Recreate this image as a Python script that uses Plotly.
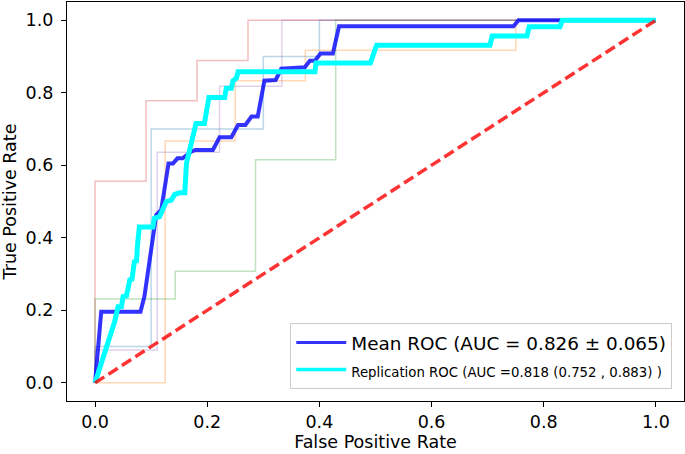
import plotly.graph_objects as go

# ---- data ----
fold_colors = ["rgba(31,119,180,0.3)", "rgba(255,127,14,0.3)", "rgba(44,160,44,0.3)",
               "rgba(214,39,40,0.3)", "rgba(148,103,189,0.3)"]

fold0_fpr = [0, 0, 0.1, 0.1, 0.3, 0.3, 0.4, 0.4, 1.0]
fold0_tpr = [0, 0.1, 0.1, 0.7, 0.7, 0.9, 0.9, 1.0, 1.0]

fold1_fpr = [0, 0.125, 0.125, 0.25, 0.25, 0.375, 0.375, 0.75, 0.75, 1.0]
fold1_tpr = [0, 0, 0.667, 0.667, 0.833, 0.833, 0.917, 0.917, 1.0, 1.0]

fold2_fpr = [0, 0, 0.143, 0.143, 0.286, 0.286, 0.429, 0.429, 1.0]
fold2_tpr = [0, 0.231, 0.231, 0.308, 0.308, 0.615, 0.615, 1.0, 1.0]

fold3_fpr = [0, 0, 0.0909, 0.0909, 0.1818, 0.1818, 0.2727, 0.2727, 1.0]
fold3_tpr = [0, 0.556, 0.556, 0.778, 0.778, 0.889, 0.889, 1.0, 1.0]

fold4_fpr = [0, 0, 0.111, 0.111, 0.222, 0.222, 0.333, 0.333, 1.0]
fold4_tpr = [0, 0.0909, 0.0909, 0.636, 0.636, 0.818, 0.818, 1.0, 1.0]

mean_fpr = [0, 0.011, 0.081, 0.088, 0.109, 0.118, 0.131, 0.139, 0.147, 0.156, 0.172,
            0.179, 0.210, 0.222, 0.243, 0.255, 0.268, 0.279, 0.290, 0.302, 0.322,
            0.332, 0.374, 0.383, 0.392, 0.402, 0.424, 0.435, 0.746, 0.755, 1.0]
mean_tpr = [0, 0.196, 0.196, 0.238, 0.463, 0.477, 0.605, 0.605, 0.619, 0.619, 0.638,
            0.642, 0.642, 0.677, 0.677, 0.711, 0.711, 0.734, 0.734, 0.833, 0.835,
            0.866, 0.870, 0.888, 0.888, 0.908, 0.908, 0.983, 0.983, 1.0, 1.0]

rep_fpr = [0, 0.035, 0.041, 0.047, 0.050, 0.056, 0.062, 0.066, 0.070, 0.074, 0.076,
           0.079, 0.103, 0.106, 0.115, 0.121, 0.127, 0.136, 0.142, 0.151, 0.160,
           0.163, 0.169, 0.175, 0.180, 0.195, 0.198, 0.203, 0.231, 0.234, 0.243,
           0.246, 0.252, 0.255, 0.392, 0.394, 0.491, 0.495, 0.502, 0.704, 0.708,
           0.770, 0.774, 0.829, 0.833, 1.0]
rep_tpr = [0, 0.169, 0.210, 0.210, 0.238, 0.240, 0.284, 0.286, 0.334, 0.336, 0.385,
           0.430, 0.430, 0.454, 0.458, 0.481, 0.500, 0.504, 0.520, 0.524, 0.524,
           0.605, 0.642, 0.688, 0.715, 0.715, 0.743, 0.787, 0.787, 0.812, 0.812,
           0.833, 0.840, 0.858, 0.858, 0.882, 0.882, 0.904, 0.931, 0.931, 0.956,
           0.956, 0.982, 0.982, 1.0, 1.0]

chance = [0, 1]
tick_vals = [0.0, 0.2, 0.4, 0.6, 0.8, 1.0]
tick_text = ["0.0", "0.2", "0.4", "0.6", "0.8", "1.0"]

mean_label = "Mean ROC (AUC = 0.826 ± 0.065)"
rep_label = "<span style='font-size:13.3px'>Replication ROC (AUC =0.818 (0.752 , 0.883) )</span>"

MEAN_COLOR = "rgba(0,0,255,0.8)"
REP_COLOR = "#00ffff"

# ---- figure ----
fig = go.Figure()
folds = [(fold0_fpr, fold0_tpr), (fold1_fpr, fold1_tpr), (fold2_fpr, fold2_tpr),
         (fold3_fpr, fold3_tpr), (fold4_fpr, fold4_tpr)]
for (fx, fy), c in zip(folds, fold_colors):
    fig.add_trace(go.Scatter(x=fx, y=fy, mode="lines", line=dict(color=c, width=1.5),
                             showlegend=False, hoverinfo="skip"))

fig.add_trace(go.Scatter(x=mean_fpr, y=mean_tpr, mode="lines", showlegend=False,
                         line=dict(color=MEAN_COLOR, width=4)))
fig.add_trace(go.Scatter(x=rep_fpr, y=rep_tpr, mode="lines", showlegend=False,
                         line=dict(color=REP_COLOR, width=5)))
fig.add_trace(go.Scatter(x=chance, y=chance, mode="lines", showlegend=False,
                         line=dict(color="rgba(255,0,0,0.8)", width=3.5, dash="11px,5px")))

# legend entries (thinner sample lines like the reference)
fig.add_trace(go.Scatter(x=[None], y=[None], mode="lines", name=mean_label,
                         line=dict(color=MEAN_COLOR, width=3)))
fig.add_trace(go.Scatter(x=[None], y=[None], mode="lines", name=rep_label,
                         line=dict(color=REP_COLOR, width=3.5)))

axis_common = dict(range=[-0.05, 1.05], tickvals=tick_vals, ticktext=tick_text,
                   showgrid=False, zeroline=False, showline=True, mirror=True,
                   linecolor="black", linewidth=1.2, ticks="outside", ticklen=5,
                   tickwidth=1.2, tickcolor="black",
                   tickfont=dict(size=17.5, color="black", family="DejaVu Sans"))

fig.update_layout(
    width=685, height=454,
    margin=dict(l=67, r=1, t=2, b=53),
    paper_bgcolor="white", plot_bgcolor="white",
    font=dict(family="DejaVu Sans", color="black"),
    xaxis=dict(title=dict(text="False Positive Rate", font=dict(size=17.5), standoff=4), **axis_common),
    yaxis=dict(title=dict(text="True Positive Rate", font=dict(size=17.5), standoff=6),
               ticklabelstandoff=4, **axis_common),
    legend=dict(x=0.981, y=0.03, xanchor="right", yanchor="bottom",
                bgcolor="rgba(255,255,255,0.8)", bordercolor="#cccccc", borderwidth=1,
                font=dict(size=18.4, family="DejaVu Sans", color="black"),
                itemwidth=50, tracegroupgap=0),
)

fig.write_html("out.html")
